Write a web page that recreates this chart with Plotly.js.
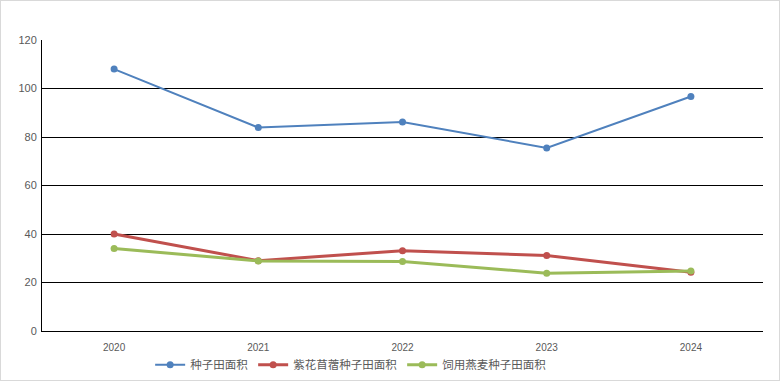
<!DOCTYPE html>
<html><head><meta charset="utf-8">
<script src="https://cdn.plot.ly/plotly-3.0.1.min.js"></script>
<style>html,body{margin:0;padding:0;background:#fff}#c{width:780px;height:381px;box-sizing:border-box;border:1px solid #d9d9d9}</style>
</head><body><div id="c"></div>
<script>
const years = ['2020','2021','2022','2023','2024'];
const seedField = [108.0, 83.9, 86.2, 75.5, 96.7];
const alfalfa = [40.0, 29.0, 33.1, 31.1, 24.2];
const oats = [34.0, 28.9, 28.7, 23.8, 24.7];
const names = ['种子田面积','紫花苜蓿种子田面积','饲用燕麦种子田面积'];
const colors = ['#4F81BD','#C0504D','#9BBB59'];
const widths = [2, 3, 3];
const series = [seedField, alfalfa, oats];
const data = series.map((s,i)=>({
  x: years, y: s, name: names[i], type:'scatter', mode:'lines+markers',
  line:{color:colors[i], width:widths[i]},
  marker:{color:colors[i], size:7}
}));
const layout = {
  width:778, height:379,
  margin:{l:41, r:16, t:39, b:49},
  paper_bgcolor:'#fff', plot_bgcolor:'#fff',
  font:{family:'"Noto Sans CJK SC", "Liberation Sans", sans-serif', size:11, color:'#595959'},
  xaxis:{type:'category', showgrid:false, showline:true, linecolor:'#000', linewidth:1,
    ticks:'', ticklabelstandoff:7, tickfont:{size:10, family:'"Liberation Sans", sans-serif', color:'#595959'}, range:[-0.5,4.5], fixedrange:true, automargin:false},
  yaxis:{range:[0,120], dtick:20, showgrid:true, gridcolor:'#000', gridwidth:1, showline:true, linecolor:'#000',
    linewidth:1, zeroline:false, ticks:'', ticklabelstandoff:2, tickfont:{size:11, family:'"Liberation Sans", sans-serif', color:'#595959'}, fixedrange:true, automargin:false},
  showlegend:true,
  legend:{orientation:'h', x:0.15, xanchor:'left', yref:'container', y:0.04, yanchor:'middle', bgcolor:'rgba(0,0,0,0)', font:{size:11.5, color:'#595959'}, itemwidth:30, tracegroupgap:0},
};
Plotly.newPlot('c', data, layout, {displayModeBar:false, staticPlot:true});
</script></body></html>
